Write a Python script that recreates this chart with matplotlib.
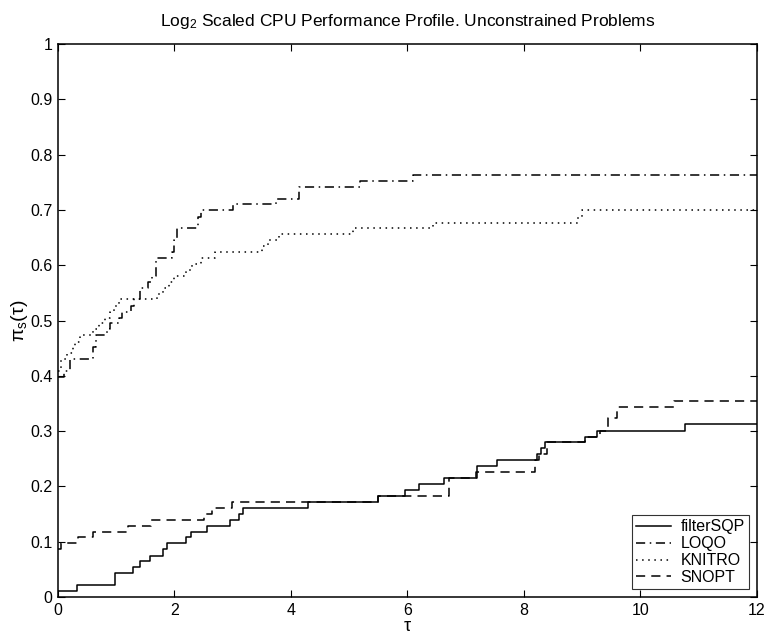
import matplotlib
matplotlib.use("Agg")
import matplotlib.pyplot as plt

plt.rcParams['font.family'] = ['Liberation Sans', 'DejaVu Sans']
plt.rcParams['mathtext.fontset'] = 'custom'
plt.rcParams['mathtext.rm'] = 'Liberation Sans'
plt.rcParams['mathtext.it'] = 'Liberation Sans'
plt.rcParams['mathtext.default'] = 'regular'

# step profiles (tau, fraction of problems)
filtersqp_t = [0, 0.32, 0.98, 1.29, 1.41, 1.58, 1.80, 1.88, 2.19, 2.28, 2.55, 2.95,
               3.11, 3.17, 4.30, 5.50, 5.96, 6.19, 6.63, 7.19, 7.53, 8.22, 8.30,
               8.36, 9.05, 9.25, 10.76, 12]
filtersqp_v = [0.011, 0.022, 0.043, 0.054, 0.065, 0.075, 0.086, 0.097, 0.108, 0.118,
               0.129, 0.140, 0.151, 0.161, 0.172, 0.183, 0.194, 0.204, 0.215, 0.237,
               0.247, 0.258, 0.269, 0.280, 0.290, 0.301, 0.312, 0.312]

loqo_t = [0, 0.10, 0.20, 0.60, 0.65, 0.85, 0.90, 1.05, 1.10, 1.25, 1.30, 1.40, 1.55,
          1.62, 1.68, 1.95, 2.00, 2.05, 2.40, 2.45, 3.00, 3.75, 4.13, 5.18, 6.10, 12]
loqo_v = [0.398, 0.409, 0.430, 0.452, 0.473, 0.484, 0.495, 0.505, 0.516, 0.527, 0.538,
          0.559, 0.570, 0.581, 0.613, 0.624, 0.645, 0.667, 0.688, 0.699, 0.710, 0.720,
          0.742, 0.753, 0.763, 0.763]

knitro_t = [0, 0.05, 0.15, 0.25, 0.30, 0.38, 0.60, 0.70, 0.80, 0.90, 0.97, 1.05, 1.70,
            1.80, 1.90, 2.00, 2.20, 2.30, 2.45, 2.70, 3.50, 3.60, 3.80, 5.07, 6.44,
            8.93, 9.00, 12]
knitro_v = [0.409, 0.430, 0.441, 0.452, 0.462, 0.473, 0.484, 0.495, 0.505, 0.516,
            0.527, 0.538, 0.548, 0.559, 0.570, 0.581, 0.591, 0.602, 0.613, 0.624,
            0.634, 0.645, 0.656, 0.667, 0.677, 0.688, 0.699, 0.699]

snopt_t = [0, 0.05, 0.35, 0.60, 1.20, 1.60, 2.50, 2.65, 2.98, 5.50, 6.72, 7.18, 8.19,
           8.25, 8.39, 9.05, 9.30, 9.45, 9.60, 10.57, 12]
snopt_v = [0.086, 0.097, 0.108, 0.118, 0.129, 0.140, 0.151, 0.161, 0.172, 0.183,
           0.215, 0.226, 0.247, 0.258, 0.280, 0.290, 0.301, 0.323, 0.344, 0.355, 0.355]

fig = plt.figure(figsize=(7.64, 6.36), dpi=100)
ax = fig.add_axes([0.0759, 0.0613, 0.9149, 0.8695])

lw = 1.1
ax.step(filtersqp_t, filtersqp_v, where='post', color='black', lw=lw, label='filterSQP')
ax.step(loqo_t, loqo_v, where='post', color='black', lw=lw, label='LOQO',
        dashes=(6, 3, 1, 3))
ax.step(knitro_t, knitro_v, where='post', color='black', lw=lw, label='KNITRO',
        dashes=(1, 3))
ax.step(snopt_t, snopt_v, where='post', color='black', lw=lw, label='SNOPT',
        dashes=(6, 4))

ax.set_xlim(0, 12)
ax.set_ylim(0, 1)
ax.set_xticks(range(0, 13, 2))
ax.set_yticks([i / 10 for i in range(11)])
ax.set_yticklabels(['0', '0.1', '0.2', '0.3', '0.4', '0.5', '0.6', '0.7', '0.8', '0.9', '1'])
ax.tick_params(direction='in', top=True, right=True, length=5, width=0.8,
               labelsize=11.5, pad=4)
for s in ax.spines.values():
    s.set_linewidth(1.1)

ax.set_title('Log$_2$ Scaled CPU Performance Profile. Unconstrained Problems',
             fontsize=12.5, pad=13)
ax.set_xlabel('τ', fontsize=13, labelpad=0)
ax.set_ylabel('π$_s$(τ)', fontsize=14, labelpad=0)

leg = ax.legend(loc='lower right', fontsize=11.5, frameon=True, fancybox=False,
                edgecolor='black', borderpad=0.25, labelspacing=0.12,
                handlelength=2.2, handletextpad=0.6, borderaxespad=0.5)
leg.get_frame().set_linewidth(0.8)

fig.savefig('out.png', dpi=100)
